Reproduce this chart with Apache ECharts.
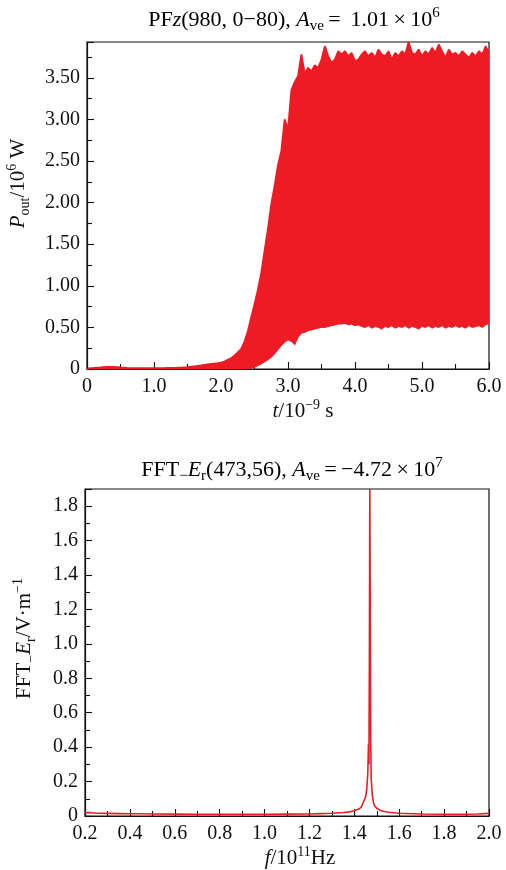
<!DOCTYPE html>
<html>
<head>
<meta charset="utf-8">
<script src="https://cdn.jsdelivr.net/npm/echarts@6/dist/echarts.min.js"></script>
<style>
html,body{margin:0;padding:0;background:#fff;}
#chart{width:506px;height:870px;}
</style>
</head>
<body>
<div id="chart"></div>
<script>
// ---- Top panel: output power envelope (time in ns, power in 10^6 W) ----
var timeNs = [
  0.00,0.05,0.10,0.15,0.20,0.25,0.30,0.35,0.40,0.45,0.50,0.55,0.60,0.65,0.70,0.75,0.80,0.85,0.90,0.95,
  1.00,1.05,1.10,1.15,1.20,1.25,1.30,1.35,1.40,1.45,1.50,1.55,1.60,1.65,1.70,1.75,1.80,1.85,1.90,1.95,
  2.00,2.05,2.10,2.15,2.20,2.25,2.30,2.35,2.40,2.45,2.50,2.55,2.60,2.65,2.70,2.75,2.80,2.85,2.90,2.95,
  3.00,3.05,3.10,3.15,3.20,3.25,3.30,3.35,3.40,3.45,3.50,3.55,3.60,3.65,3.70,3.75,3.80,3.85,3.90,3.95,
  4.00,4.05,4.10,4.15,4.20,4.25,4.30,4.35,4.40,4.45,4.50,4.55,4.60,4.65,4.70,4.75,4.80,4.85,4.90,4.95,
  5.00,5.05,5.10,5.15,5.20,5.25,5.30,5.35,5.40,5.45,5.50,5.55,5.60,5.65,5.70,5.75,5.80,5.85,5.90,5.95,
  6.00
];
var powerUpper = [
  0.005,0.010,0.012,0.015,0.018,0.022,0.025,0.026,0.025,0.022,0.018,0.015,0.012,0.010,0.010,0.010,0.010,0.010,0.010,0.010,
  0.010,0.010,0.010,0.011,0.012,0.012,0.014,0.015,0.017,0.020,0.023,0.027,0.032,0.037,0.042,0.048,0.054,0.060,0.065,0.070,
  0.078,0.090,0.110,0.130,0.160,0.200,0.240,0.330,0.450,0.620,0.780,0.950,1.150,1.420,1.680,1.980,2.200,2.450,2.620,3.000,
  2.880,3.350,3.450,3.520,3.780,3.550,3.620,3.580,3.650,3.620,3.720,3.880,3.760,3.680,3.720,3.820,3.780,3.820,3.760,3.800,
  3.700,3.720,3.780,3.820,3.760,3.800,3.740,3.840,3.780,3.760,3.820,3.720,3.800,3.760,3.820,3.780,3.930,3.800,3.780,3.840,
  3.760,3.820,3.780,3.860,3.800,3.900,3.820,3.740,3.840,3.780,3.800,3.760,3.820,3.780,3.740,3.800,3.760,3.820,3.780,3.880,
  3.800
];
var powerLower = [
  0,0,0,0,0,0,0,0,0,0,0,0,0,0,0,0,0,0,0,0,
  0,0,0,0,0,0,0,0,0,0,0,0,0,0,0,0,0,0,0,0,
  0,0,0,0,0,0,0,0,0.005,0.01,0.02,0.04,0.06,0.085,0.11,0.14,0.18,0.23,0.28,0.32,
  0.35,0.33,0.29,0.38,0.43,0.44,0.46,0.47,0.48,0.49,0.50,0.50,0.51,0.52,0.53,0.54,0.54,0.55,0.53,0.54,
  0.52,0.53,0.51,0.50,0.52,0.49,0.51,0.50,0.48,0.51,0.50,0.52,0.49,0.51,0.50,0.52,0.49,0.51,0.50,0.48,
  0.51,0.50,0.52,0.49,0.51,0.50,0.52,0.49,0.51,0.50,0.52,0.50,0.51,0.49,0.52,0.50,0.51,0.52,0.50,0.53,
  0.55
];

// ---- Bottom panel: FFT spectrum (frequency in 10^11 Hz) ----
var fftFreq = [
  0.20,0.22,0.25,0.30,0.35,0.40,0.45,0.50,0.60,0.70,0.80,0.90,1.00,1.10,1.20,1.25,1.30,1.35,1.38,1.40,
  1.42,1.43,1.44,1.45,1.455,1.46,1.463,1.465,1.467,1.469,1.471,1.473,1.475,1.48,1.485,1.49,1.50,1.52,1.55,1.60,
  1.70,1.80,1.90,1.95,2.00
];
var fftAmp = [
  0.018,0.020,0.016,0.015,0.014,0.013,0.013,0.012,0.011,0.010,0.010,0.010,0.010,0.011,0.012,0.014,0.016,0.020,0.024,0.030,
  0.040,0.050,0.080,0.110,0.150,0.250,0.420,0.300,0.900,1.900,1.200,0.450,0.220,0.120,0.080,0.060,0.045,0.030,0.022,0.016,
  0.012,0.010,0.010,0.012,0.015
];

var topXTicks = [0, 6, 1];      // min, max, interval
var topYTicks = [0, 3.93, 0.5];
var botXTicks = [0.2, 2.0, 0.2];
var botYTicks = [0, 1.9, 0.2];

var RED = '#ED1C24';
var FONT = "'Liberation Serif','DejaVu Serif',serif";
var FS = 20;   // tick labels
var FN = 21;   // axis names
var FT = 22;   // titles

function richSet(fs) {
  return {
    r:   {fontFamily: FONT, fontSize: fs, color: '#111', lineHeight: fs + 6},
    i:   {fontFamily: FONT, fontSize: fs, fontStyle: 'italic', color: '#111', lineHeight: fs + 6},
    sub: {fontFamily: FONT, fontSize: Math.round(fs * 0.68), color: '#111', verticalAlign: 'bottom', lineHeight: Math.round(fs * 0.8)},
    sup: {fontFamily: FONT, fontSize: Math.round(fs * 0.68), color: '#111', verticalAlign: 'top', lineHeight: Math.round(fs * 0.8)}
  };
}

var envData = timeNs.map(function (t, k) { return [t, powerLower[k], powerUpper[k]]; });
var upperData = timeNs.map(function (t, k) { return [t, powerUpper[k]]; });
var lowerData = timeNs.map(function (t, k) { return [t, powerLower[k]]; });
var fftData = fftFreq.map(function (f, k) { return [f, fftAmp[k]]; });

function axisCommon() {
  return {
    axisLine: {show: true, onZero: false, lineStyle: {color: '#111', width: 1.2}},
    axisTick: {show: true, inside: true, length: 7, lineStyle: {color: '#111', width: 1.1}},
    minorTick: {show: true, splitNumber: 2, length: 5, lineStyle: {color: '#111', width: 1.1}},
    splitLine: {show: false},
    minorSplitLine: {show: false}
  };
}
function mk(extra) { var o = axisCommon(); for (var k in extra) o[k] = extra[k]; return o; }

// One filled polygon between the lower and upper envelopes, placed via the axes' scales.
function renderBand(params, api) {
  if (params.dataIndex !== 0) return null;
  var pts = [];
  var k;
  for (k = 0; k < envData.length; k++) pts.push(api.coord([envData[k][0], envData[k][1]]));
  for (k = envData.length - 1; k >= 0; k--) pts.push(api.coord([envData[k][0], envData[k][2]]));
  return {
    type: 'polygon',
    shape: {points: pts},
    style: {fill: RED, stroke: null}
  };
}

var chart = echarts.init(document.getElementById('chart'), null, {renderer: 'canvas'});
chart.setOption({
  animation: false,
  backgroundColor: '#fff',
  graphic: [
    {type: 'text', x: 294, y: 20, style: {
      text: '{r|PF}{i|z}{r|(980, 0−80), }{i|A}{sub|ve}{r|\u2009=\u2009 1.01\u2009×\u200910}{sup|6}',
      rich: richSet(FT), align: 'center', verticalAlign: 'middle'}},
    {type: 'text', x: 292, y: 470, style: {
      text: '{r|FFT}{sub|−}{i|E}{sub|r}{r|(473,56), }{i|A}{sub|ve}{r|\u2009=\u2009−4.72\u2009×\u200910}{sup|7}',
      rich: richSet(FT), align: 'center', verticalAlign: 'middle'}}
  ],
  grid: [
    {left: 87, right: 17, top: 42, height: 327, show: true, borderColor: '#111', borderWidth: 1.2,
      backgroundColor: 'transparent', outerBoundsMode: 'none', containLabel: false},
    {left: 85, right: 17, top: 489, height: 327, show: true, borderColor: '#111', borderWidth: 1.2,
      backgroundColor: 'transparent', outerBoundsMode: 'none', containLabel: false}
  ],
  xAxis: [
    mk({type: 'value', gridIndex: 0, min: topXTicks[0], max: topXTicks[1], interval: topXTicks[2],
      axisLabel: {fontFamily: FONT, fontSize: FS, color: '#111', margin: 8,
        formatter: function (v) { return v === 0 ? '0' : v.toFixed(1); }},
      name: '{i|t}{r|/10}{sup|−9}{r| s}', nameLocation: 'middle', nameGap: 29,
      nameTextStyle: {rich: richSet(FN), padding: [0, 0, 0, 30]}}),
    mk({type: 'value', gridIndex: 1, min: botXTicks[0], max: botXTicks[1], interval: botXTicks[2],
      axisLabel: {fontFamily: FONT, fontSize: FS, color: '#111', margin: 8,
        formatter: function (v) { return Math.abs(v) < 1e-9 ? '0' : v.toFixed(1); }},
      name: '{i|f}{r|/10}{sup|11}{r|Hz}', nameLocation: 'middle', nameGap: 27,
      nameTextStyle: {rich: richSet(FN), padding: [0, 0, 0, 26]}})
  ],
  yAxis: [
    mk({type: 'value', gridIndex: 0, min: topYTicks[0], max: topYTicks[1], interval: topYTicks[2],
      axisLabel: {fontFamily: FONT, fontSize: FS, color: '#111', margin: 7, showMaxLabel: false,
        formatter: function (v) { return v === 0 ? '0' : v.toFixed(2); }},
      name: '{i|P}{sub|out}{r|/10}{sup|6}{r| W}', nameLocation: 'middle', nameGap: 55,
      nameTextStyle: {rich: richSet(FN), padding: [0, 0, 0, 44]}}),
    mk({type: 'value', gridIndex: 1, min: botYTicks[0], max: botYTicks[1], interval: botYTicks[2],
      axisLabel: {fontFamily: FONT, fontSize: FS, color: '#111', margin: 7, showMaxLabel: false,
        formatter: function (v) { return Math.abs(v) < 1e-9 ? '0' : v.toFixed(1); }},
      name: '{r|FFT}{sub|−}{i|E}{sub|r}{r|/V·m}{sup|−1}', nameLocation: 'middle', nameGap: 47,
      nameTextStyle: {rich: richSet(FN), padding: [0, 0, 0, 28]}})
  ],
  series: [
    {type: 'custom', xAxisIndex: 0, yAxisIndex: 0, data: envData, renderItem: renderBand,
      encode: {x: 0, y: [1, 2]}, silent: true, z: 3},
    {type: 'line', xAxisIndex: 0, yAxisIndex: 0, data: upperData,
      symbol: 'none', lineStyle: {color: RED, width: 1.8}, z: 4},
    {type: 'line', xAxisIndex: 0, yAxisIndex: 0, data: lowerData,
      symbol: 'none', lineStyle: {color: RED, width: 1}, z: 4},
    {type: 'line', xAxisIndex: 1, yAxisIndex: 1, data: fftData,
      symbol: 'none', lineStyle: {color: RED, width: 1.6}, z: 3}
  ]
});
</script>
</body>
</html>
